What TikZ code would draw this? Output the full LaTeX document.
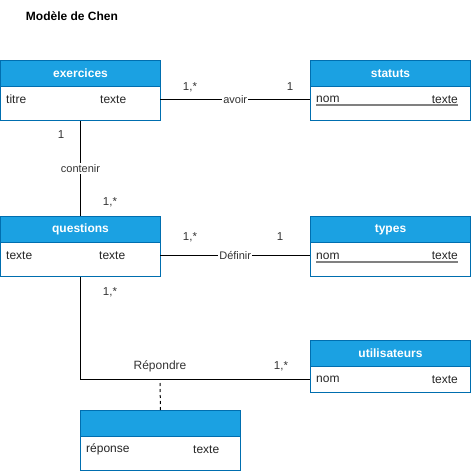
\documentclass[tikz,border=0pt]{standalone}
\usepackage{fontspec}
\setmainfont{Liberation Sans}
\definecolor{hdr}{HTML}{1BA1E2}
\definecolor{brd}{HTML}{006EAF}
\definecolor{lbl}{HTML}{333333}
\begin{document}
\begin{tikzpicture}[x=1pt,y=-1pt,
 hdrbox/.style={draw=brd, fill=hdr, line width=1pt, minimum width=160pt, minimum height=26pt, inner sep=0pt, text=white, font=\bfseries\fontsize{12}{14}\selectfont, anchor=north west},
 bodybox/.style={draw=brd, fill=white, line width=1pt, minimum width=160pt, anchor=north west, inner sep=0pt},
 rowbox/.style={minimum width=160pt, minimum height=26pt, anchor=north west, inner sep=0pt},
 attr/.style={font=\fontsize{12}{14}\selectfont, text=black!85, inner sep=0pt},
 card/.style={font=\fontsize{11.5}{13}\selectfont, text=lbl, inner sep=1pt},
 rel/.style={font=\fontsize{11}{13}\selectfont, fill=white, inner sep=1pt, text=lbl},
 conn/.style={draw=black, line width=1pt},
 keyline/.style={draw=gray, line width=1.2pt}]
\useasboundingbox (0,0) rectangle (471,471);

\node[font=\bfseries\fontsize{12}{14}\selectfont, inner sep=0pt] (title) at (72,16) {Modèle de Chen};

% exercices
\node[bodybox, minimum height=34pt] (exb) at (0,86) {};
\node[rowbox] (exr) at (0,86) {};
\node[hdrbox] (exh) at (0,60) {exercices};
\node[attr, anchor=west] (ex1) at (6,99.5) {titre};
\node[attr, anchor=west] (ex2) at (100,99.5) {texte};

% statuts
\node[bodybox, minimum height=34pt] (stb) at (310,86) {};
\node[rowbox] (str) at (310,86) {};
\node[hdrbox] (sth) at (310,60) {statuts};
\node[attr, anchor=west] (st1) at (316,99.5) {nom};
\node[attr, anchor=east] (st2) at (458,99.5) {texte};
\draw[keyline] (316,105) -- (458,105);

% questions
\node[bodybox, minimum height=34pt] (qub) at (0,242) {};
\node[rowbox] (qur) at (0,242) {};
\node[hdrbox] (quh) at (0,216) {questions};
\node[attr, anchor=west] (qu1) at (6,256) {texte};
\node[attr, anchor=west] (qu2) at (99,256) {texte};

% types
\node[bodybox, minimum height=34pt] (tyb) at (310,242) {};
\node[rowbox] (tyr) at (310,242) {};
\node[hdrbox] (tyh) at (310,216) {types};
\node[attr, anchor=west] (ty1) at (316,256) {nom};
\node[attr, anchor=east] (ty2) at (458,256) {texte};
\draw[keyline] (316,262) -- (458,262);

% utilisateurs
\node[bodybox, minimum height=26pt] (utb) at (310,366) {};
\node[rowbox] (utr) at (310,366) {};
\node[hdrbox] (uth) at (310,340) {utilisateurs};
\node[attr, anchor=west] (ut1) at (316,379.5) {nom};
\node[attr, anchor=east] (ut2) at (458,379.5) {texte};

% reponse
\node[bodybox, minimum height=34pt] (reb) at (80,436) {};
\node[hdrbox] (reh) at (80,410) {};
\node[attr, anchor=west] (re1) at (86,449.5) {réponse};
\node[attr, anchor=west] (re2) at (193,449.5) {texte};

% connectors
\draw[conn] (exr.east) -- node[rel] (avoir) {avoir} (str.west);
\node[card] (c1) at (190,87) {1,*};
\node[card] (c2) at (290,87) {1};

\draw[conn] (exb.south) -- node[rel] (contenir) {contenir} (quh.north);
\node[card] (c3) at (61,135) {1};
\node[card] (c4) at (110,202) {1,*};

\draw[conn] (qur.east) -- node[rel] (definir) {Définir} (tyr.west);
\node[card] (c5) at (190,237) {1,*};
\node[card] (c6) at (280,237) {1};

\draw[conn] (qub.south) |- (utr.west);
\node[card, font=\fontsize{12}{14}\selectfont] (repondre) at (160,366) {Répondre};
\node[card] (c7) at (110,292) {1,*};
\node[card] (c8) at (281,366) {1,*};

\coordinate (rpd) at (160,383);
\draw[conn, dashed] (rpd) -- (reh.north);
\end{tikzpicture}
\end{document}
